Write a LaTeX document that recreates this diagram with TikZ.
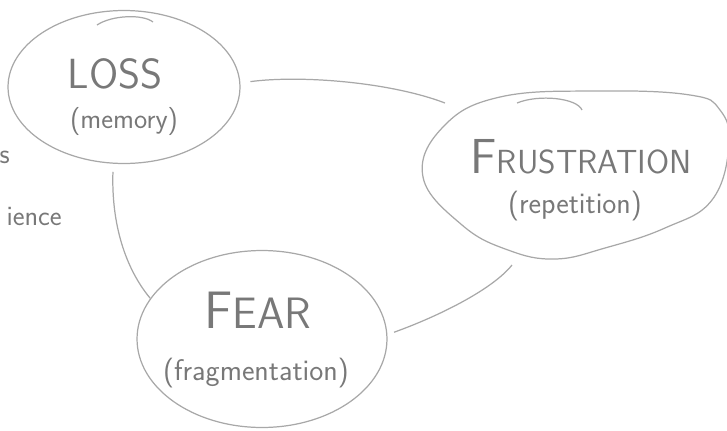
\documentclass[tikz,border=0pt]{standalone}
\usetikzlibrary{calc, shapes.geometric}

\definecolor{pencil}{RGB}{168,168,168}
\definecolor{ink}{RGB}{120,120,120}

\tikzset{
  bubble/.style={draw=pencil, line width=0.7pt, inner sep=0pt},
  link/.style={draw=pencil, line width=0.7pt},
  title/.style={text=ink, inner sep=0pt, font=\sffamily\fontsize{#1}{#1}\selectfont},
}

\begin{document}
\begin{tikzpicture}[x=0.02cm, y=-0.02cm]
\useasboundingbox (0,0) rectangle (727,430);

% Bubbles
\node[bubble, ellipse, minimum width=4.64cm, minimum height=3.06cm] (loss) at (124,87) {};
\node[bubble, ellipse, minimum width=5cm, minimum height=3.54cm] (fear) at (262,339) {};
% Frustration blob, drawn by hand
\coordinate (frust) at (575,176);
\draw[link] plot[smooth cycle, tension=0.7] coordinates {(423,177) (443,127) (500,97) (600,91)
  (690,95) (720,110) (729,145) (712,200) (665,228) (605,248) (555,259) (508,250) (462,225)};
\coordinate (frustin) at (445,103);
\coordinate (frustout) at (512,265);

% Closing strokes at the top
\draw[link] ($(loss.center)+(-27,-62)$) .. controls +(15,-10) and +(-10,-8) .. ($(loss.center)+(29,-65)$);
\draw[link] ($(frust)+(-58,-73)$) .. controls +(22,-9) and +(-5,-12) .. ($(frust)+(7,-66)$);

% Names
\node[title=24, anchor=base] (lossname) at (115,88) {LOSS};
\node[title=16, anchor=base] (lossnote) at (124,128) {(memory)};
\node[title=19, anchor=base] (frustname) at (581,173) {{\fontsize{28}{28}\selectfont F}RUSTRATION};
\node[title=17, anchor=base] (frustnote) at (575,213) {(repetition)};
\node[title=25, anchor=base] (fearname) at (258,328) {{\fontsize{30}{30}\selectfont F}EAR};
\node[title=17, anchor=base] (fearnote) at (256,380) {(fragmentation)};

% Cut off at the left
\node[title=16, anchor=base east] (sidea) at (10,163) {s};
\node[title=16, anchor=base east] (sideb) at (62,225) {ience};

% Links
\draw[link, shorten <=0.2cm] (loss.2) .. controls +(60,-8) and +(-55,-21) .. (frustin);
\draw[link, shorten <=0.16cm] (loss.262) .. controls +(-2,60) and +(-25,-30) .. (fear.160);
\draw[link, shorten >=0.14cm] (frustout) .. controls +(-20,25) and +(50,-18) .. (fear.2);

\end{tikzpicture}
\end{document}
